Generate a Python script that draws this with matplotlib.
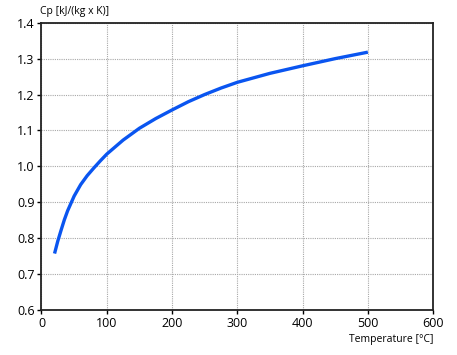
import matplotlib
matplotlib.use('Agg')
import matplotlib.pyplot as plt

# data
temp = [20, 25, 30, 35, 40, 50, 60, 70, 80, 90, 100, 125, 150, 175, 200,
        225, 250, 275, 300, 350, 400, 450, 500]
cp = [0.757, 0.792, 0.822, 0.851, 0.876, 0.917, 0.949, 0.974, 0.995, 1.015,
      1.034, 1.073, 1.106, 1.133, 1.157, 1.180, 1.200, 1.218, 1.234, 1.259,
      1.280, 1.300, 1.318]
xticks = [0, 100, 200, 300, 400, 500, 600]
yticks = [0.6, 0.7, 0.8, 0.9, 1.0, 1.1, 1.2, 1.3, 1.4]

plt.rcParams['font.family'] = ['Open Sans', 'DejaVu Sans']

fig = plt.figure(figsize=(4.57, 3.55), dpi=100)
ax = fig.add_axes([0.0908, 0.127, 0.857, 0.809])

ax.plot(temp, cp, color='#0a55f0', linewidth=2.4, solid_capstyle='butt')

ax.set_xlim(0, 600)
ax.set_ylim(0.6, 1.4)
ax.set_xticks(xticks)
ax.set_yticks(yticks)
ax.set_yticklabels(['%.1f' % v for v in yticks])
ax.tick_params(labelsize=9, length=3, width=1, pad=2, colors='black')
ax.grid(True, color='#a8a8a8', linestyle=(0, (1, 1)), linewidth=0.8)

for s in ax.spines.values():
    s.set_linewidth(1.3)
    s.set_color('#222222')

fig.text(0.088, 0.967, 'Cp [kJ/(kg x K)]', fontsize=7.5, ha='left', va='center')
fig.text(0.948, 0.045, 'Temperature [°C]', fontsize=7.5, ha='right', va='center')

fig.savefig('out.png', dpi=100)
